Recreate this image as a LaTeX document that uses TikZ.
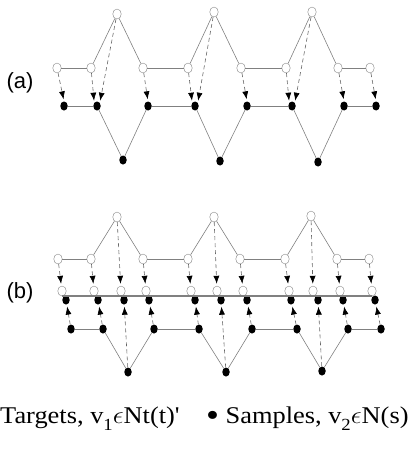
\documentclass[tikz,border=0pt]{standalone}
\usepackage{fontspec}
\setmainfont{Liberation Serif}
\setsansfont{Liberation Sans}
\usetikzlibrary{arrows.meta,shapes.geometric}

\begin{document}
\begin{tikzpicture}[x=1pt,y=-1pt,
  target/.style={ellipse,draw=gray,fill=white,inner sep=0pt,minimum width=8.5pt,minimum height=10pt},
  sample/.style={ellipse,fill=black,inner sep=0pt,minimum width=7.5pt,minimum height=9pt},
  edge/.style={draw=gray,line width=0.6pt},
  bar/.style={draw=gray,line width=1.6pt},
  map/.style={draw=black!60,line width=0.6pt,dash pattern=on 4pt off 3pt,shorten >=2pt,-{Latex[length=8pt,width=6pt,black]}},
  panel/.style={font=\sffamily\fontsize{22}{22}\selectfont}]
\useasboundingbox (0,0) rectangle (416,460);

% panel (a)
\node[panel] (la) at (20,83) {(a)};
\node(at1)[target] at (117,14) {};
\node(at2)[target] at (214,12) {};
\node(at3)[target] at (312,12) {};
\node(ao1)[target] at (57,68) {};
\node(ao2)[target] at (91,68) {};
\node(ao3)[target] at (143,68) {};
\node(ao4)[target] at (188,68) {};
\node(ao5)[target] at (241,68) {};
\node(ao6)[target] at (286,68) {};
\node(ao7)[target] at (338,68) {};
\node(ao8)[target] at (370,68) {};
\node(af1)[sample] at (64,106) {};
\node(af2)[sample] at (97,106) {};
\node(af3)[sample] at (148,106) {};
\node(af4)[sample] at (195,106) {};
\node(af5)[sample] at (247,106) {};
\node(af6)[sample] at (292,106) {};
\node(af7)[sample] at (344,106) {};
\node(af8)[sample] at (376,106) {};
\node(ab1)[sample] at (123,160) {};
\node(ab2)[sample] at (220,161) {};
\node(ab3)[sample] at (318,162) {};

\draw [edge] (ao1) to (ao2);
\draw [edge] (ao2) to (at1);
\draw [edge] (at1) to (ao3);
\draw [edge] (ao3) to (ao4);
\draw [edge] (ao4) to (at2);
\draw [edge] (at2) to (ao5);
\draw [edge] (ao5) to (ao6);
\draw [edge] (ao6) to (at3);
\draw [edge] (at3) to (ao7);
\draw [edge] (ao7) to (ao8);
\draw [edge] (af1) to (af2);
\draw [edge] (af2) to (ab1);
\draw [edge] (ab1) to (af3);
\draw [edge] (af3) to (af4);
\draw [edge] (af4) to (ab2);
\draw [edge] (ab2) to (af5);
\draw [edge] (af5) to (af6);
\draw [edge] (af6) to (ab3);
\draw [edge] (ab3) to (af7);
\draw [edge] (af7) to (af8);

\draw [map] (ao1) to (af1.north);
\draw [map] (ao2) to (af2.north west);
\draw [map] (at1) to (af2.north east);
\draw [map] (ao3) to (af3.north);
\draw [map] (ao4) to (af4.north west);
\draw [map] (at2) to (af4.north east);
\draw [map] (ao5) to (af5.north);
\draw [map] (ao6) to (af6.north west);
\draw [map] (at3) to (af6.north east);
\draw [map] (ao7) to (af7.north);
\draw [map] (ao8) to (af8.north);

% panel (b)
\node[panel] (lb) at (20,293) {(b)};
\node(bt1)[target] at (117,217) {};
\node(bt2)[target] at (214,217) {};
\node(bt3)[target] at (311,216) {};
\node(bo1)[target] at (58,259) {};
\node(bo2)[target] at (91,259) {};
\node(bo3)[target] at (143,259) {};
\node(bo4)[target] at (188,259) {};
\node(bo5)[target] at (240,259) {};
\node(bo6)[target] at (285,259) {};
\node(bo7)[target] at (337,259) {};
\node(bo8)[target] at (369,259) {};
\node(bq1)[target] at (62,291) {};
\node(bq2)[target] at (94,291) {};
\node(bq3)[target] at (121,291) {};
\node(bq4)[target] at (146,291) {};
\node(bq5)[target] at (191,291) {};
\node(bq6)[target] at (217,291) {};
\node(bq7)[target] at (243,291) {};
\node(bq8)[target] at (289,291) {};
\node(bq9)[target] at (313,291) {};
\node(bq10)[target] at (340,291) {};
\node(bq11)[target] at (372,291) {};
\node(br1)[sample] at (66,300) {};
\node(br2)[sample] at (98,300) {};
\node(br3)[sample] at (124,300) {};
\node(br4)[sample] at (149,300) {};
\node(br5)[sample] at (195,300) {};
\node(br6)[sample] at (221,300) {};
\node(br7)[sample] at (247,300) {};
\node(br8)[sample] at (291,300) {};
\node(br9)[sample] at (318,300) {};
\node(br10)[sample] at (343,300) {};
\node(br11)[sample] at (375,300) {};
\node(bs1)[sample] at (71,329) {};
\node(bs2)[sample] at (103,329) {};
\node(bs3)[sample] at (154,329) {};
\node(bs4)[sample] at (199,329) {};
\node(bs5)[sample] at (252,329) {};
\node(bs6)[sample] at (297,329) {};
\node(bs7)[sample] at (348,329) {};
\node(bs8)[sample] at (381,329) {};
\node(bb1)[sample] at (128,372) {};
\node(bb2)[sample] at (226,372) {};
\node(bb3)[sample] at (322,371) {};

\draw [bar] (bq1.south) to (bq11.south);

\draw [edge] (bo1) to (bo2);
\draw [edge] (bo2) to (bt1);
\draw [edge] (bt1) to (bo3);
\draw [edge] (bo3) to (bo4);
\draw [edge] (bo4) to (bt2);
\draw [edge] (bt2) to (bo5);
\draw [edge] (bo5) to (bo6);
\draw [edge] (bo6) to (bt3);
\draw [edge] (bt3) to (bo7);
\draw [edge] (bo7) to (bo8);
\draw [edge] (bs1) to (bs2);
\draw [edge] (bs2) to (bb1);
\draw [edge] (bb1) to (bs3);
\draw [edge] (bs3) to (bs4);
\draw [edge] (bs4) to (bb2);
\draw [edge] (bb2) to (bs5);
\draw [edge] (bs5) to (bs6);
\draw [edge] (bs6) to (bb3);
\draw [edge] (bb3) to (bs7);
\draw [edge] (bs7) to (bs8);

\draw [map] (bo1) to (bq1);
\draw [map] (bo2) to (bq2);
\draw [map] (bt1) to (bq3);
\draw [map] (bo3) to (bq4);
\draw [map] (bo4) to (bq5);
\draw [map] (bt2) to (bq6);
\draw [map] (bo5) to (bq7);
\draw [map] (bo6) to (bq8);
\draw [map] (bt3) to (bq9);
\draw [map] (bo7) to (bq10);
\draw [map] (bo8) to (bq11);

\draw [map] (bs1) to (br1);
\draw [map] (bs2) to (br2);
\draw [map] (bb1) to (br3);
\draw [map] (bs3) to (br4);
\draw [map] (bs4) to (br5);
\draw [map] (bb2) to (br6);
\draw [map] (bs5) to (br7);
\draw [map] (bs6) to (br8);
\draw [map] (bb3) to (br9);
\draw [map] (bs7) to (br10);
\draw [map] (bs8) to (br11);

% legend
\node(legend)[anchor=base west,inner sep=0pt,font=\fontsize{24}{24}\selectfont] at (0,423)
  {\scalebox{1.1}[1]{Targets, v\raisebox{-7pt}{\fontsize{17}{17}\selectfont 1}$\epsilon$Nt(t)\textquotesingle\quad\raisebox{-3pt}{\scalebox{1.4}{\textbullet}}\ Samples, v\raisebox{-7pt}{\fontsize{17}{17}\selectfont 2}$\epsilon$N(s)}};
\end{tikzpicture}
\end{document}
